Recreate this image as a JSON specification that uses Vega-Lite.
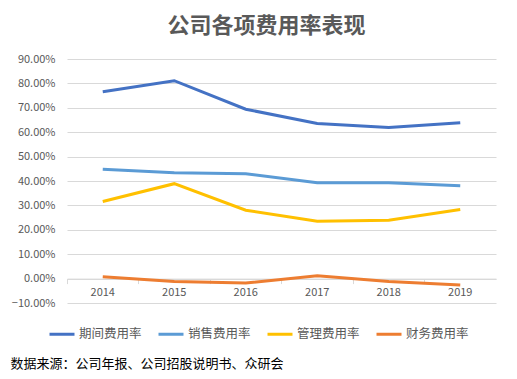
{
  "$schema": "https://vega.github.io/schema/vega-lite/v6.json",
  "width": 429,
  "height": 244,
  "autosize": {"type": "none"},
  "padding": {"left": 67, "top": 59, "right": 21, "bottom": 76},
  "background": "white",
  "config": {"font": "Noto Sans CJK SC", "view": {"stroke": null}},
  "title": {"text": "公司各项费用率表现", "fontSize": 22, "fontWeight": "bold", "color": "#595959", "anchor": "middle", "dx": -15, "offset": 15},
  "data": {"values": [
    {"year": "2014", "series": "期间费用率", "value": 0.766},
    {"year": "2015", "series": "期间费用率", "value": 0.811},
    {"year": "2016", "series": "期间费用率", "value": 0.694},
    {"year": "2017", "series": "期间费用率", "value": 0.636},
    {"year": "2018", "series": "期间费用率", "value": 0.619},
    {"year": "2019", "series": "期间费用率", "value": 0.639},
    {"year": "2014", "series": "销售费用率", "value": 0.448},
    {"year": "2015", "series": "销售费用率", "value": 0.434},
    {"year": "2016", "series": "销售费用率", "value": 0.430},
    {"year": "2017", "series": "销售费用率", "value": 0.393},
    {"year": "2018", "series": "销售费用率", "value": 0.393},
    {"year": "2019", "series": "销售费用率", "value": 0.381},
    {"year": "2014", "series": "管理费用率", "value": 0.316},
    {"year": "2015", "series": "管理费用率", "value": 0.389},
    {"year": "2016", "series": "管理费用率", "value": 0.280},
    {"year": "2017", "series": "管理费用率", "value": 0.235},
    {"year": "2018", "series": "管理费用率", "value": 0.239},
    {"year": "2019", "series": "管理费用率", "value": 0.283},
    {"year": "2014", "series": "财务费用率", "value": 0.008},
    {"year": "2015", "series": "财务费用率", "value": -0.012},
    {"year": "2016", "series": "财务费用率", "value": -0.018},
    {"year": "2017", "series": "财务费用率", "value": 0.012},
    {"year": "2018", "series": "财务费用率", "value": -0.012},
    {"year": "2019", "series": "财务费用率", "value": -0.026}
  ]},
  "mark": {"type": "line", "strokeWidth": 3},
  "encoding": {
    "x": {
      "field": "year", "type": "ordinal", "bandPosition": 0.5,
      "scale": {"type": "band", "paddingInner": 0, "paddingOuter": 0},
      "axis": {
        "bandPosition": 0, "labelAngle": 0,
        "offset": -24.4, "domainColor": "#d9d9d9", "tickColor": "#d9d9d9", "tickSize": 5,
        "labelFontSize": 11, "labelColor": "#595959", "labelPadding": 3, "grid": false,
        "title": "数据来源：公司年报、公司招股说明书、众研会",
        "titleX": -57, "titleY": 84.7, "titleAlign": "left", "titleAnchor": null, "titleBaseline": "middle",
        "titleFontSize": 13, "titleFontWeight": "normal", "titleColor": "#000000"
      }
    },
    "y": {
      "field": "value", "type": "quantitative",
      "scale": {"domain": [-0.1, 0.9], "nice": false, "zero": false},
      "axis": {
        "values": [-0.1, 0, 0.1, 0.2, 0.3, 0.4, 0.5, 0.6, 0.7, 0.8, 0.9],
        "format": ".2%", "domain": false, "ticks": false, "labelPadding": 12,
        "labelFontSize": 11, "labelColor": "#595959", "gridColor": "#d9d9d9", "title": null
      }
    },
    "color": {
      "field": "series", "type": "nominal",
      "scale": {"domain": ["期间费用率", "销售费用率", "管理费用率", "财务费用率"], "range": ["#4472C4", "#5B9BD5", "#FFC000", "#ED7D31"]},
      "legend": {
        "orient": "none", "direction": "horizontal", "legendX": -19, "legendY": 261, "title": null,
        "symbolType": "stroke", "symbolSize": 625, "symbolStrokeWidth": 3,
        "labelFontSize": 12.5, "labelColor": "#595959", "labelOffset": 3, "columnPadding": 10
      }
    }
  }
}
